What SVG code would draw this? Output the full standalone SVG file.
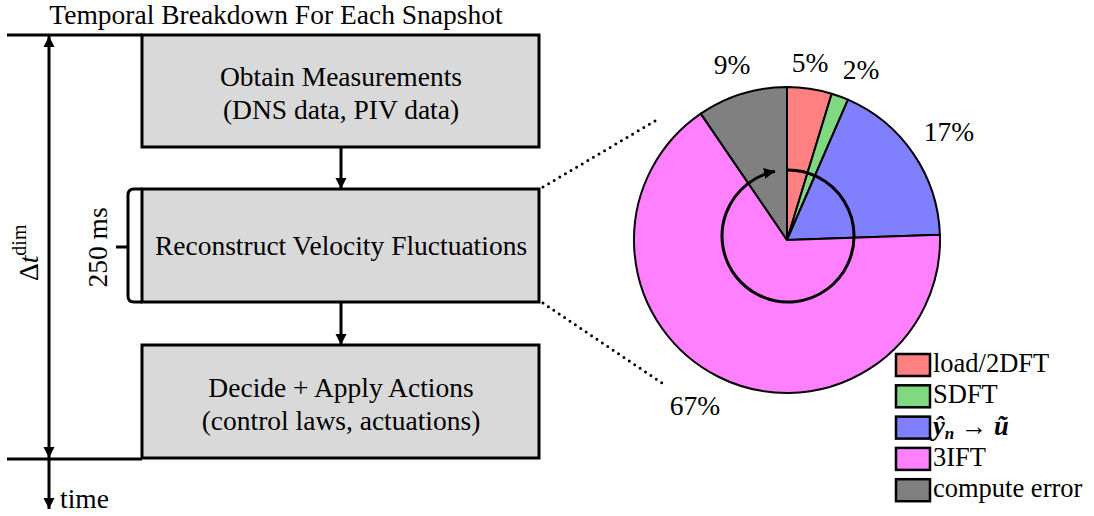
<svg xmlns="http://www.w3.org/2000/svg" width="1094" height="516" viewBox="0 0 1094 516">
<defs>
<style>
text{font-family:"Liberation Serif","Times New Roman",serif;fill:#000;}
.t{font-size:27.5px;}
.lg{font-size:26.5px;}
.box{fill:#d9d9d9;stroke:#000;stroke-width:3;}
.ln{stroke:#000;stroke-width:3;fill:none;}
.dot{stroke:#000;stroke-width:3;stroke-linecap:round;stroke-dasharray:0 6.5;fill:none;}
.sl{stroke:#000;stroke-width:2;stroke-linejoin:round;}
.key{stroke:#000;stroke-width:2.5;}
</style>
<marker id="ah" markerUnits="userSpaceOnUse" markerWidth="12" markerHeight="12" viewBox="0 0 12 12" refX="11" refY="6" orient="auto-start-reverse">
<path d="M0,0.5 L11,6 L0,11.5 z" fill="#000"/>
</marker>
</defs>
<rect width="1094" height="516" fill="#fff"/>
<text class="t" x="276" y="24" text-anchor="middle">Temporal Breakdown For Each Snapshot</text>
<g id="box-obtain">
<rect class="box" x="142" y="35" width="397" height="112"/>
<text class="t" x="341" y="86" text-anchor="middle">Obtain Measurements</text>
<text class="t" x="341" y="119" text-anchor="middle">(DNS data, PIV data)</text>
</g>
<g id="box-reconstruct">
<rect class="box" x="142" y="189" width="397" height="113"/>
<text class="t" x="341" y="255" text-anchor="middle">Reconstruct Velocity Fluctuations</text>
</g>
<g id="box-decide">
<rect class="box" x="142" y="345" width="397" height="113"/>
<text class="t" x="341" y="397" text-anchor="middle">Decide + Apply Actions</text>
<text class="t" x="341" y="430" text-anchor="middle">(control laws, actuations)</text>
</g>
<g id="timeline">
<line class="ln" x1="7" y1="35" x2="142" y2="35"/>
<line class="ln" x1="7" y1="459" x2="142" y2="459"/>
<text class="t" transform="translate(38,281) rotate(-90)">Δ<tspan font-style="italic">t</tspan><tspan font-size="20" dy="-12">dim</tspan></text>
<text class="t" x="60" y="508">time</text>
</g>
<g id="brace">
<path class="ln" d="M142,189 H134 Q128,189 128,195 V296 Q128,302 134,302 H142 M128,247 H116"/>
<text class="t" transform="translate(107,247.5) rotate(-90)" text-anchor="middle">250 ms</text>
</g>
<g id="connectors">
<line class="ln" x1="341" y1="147" x2="341" y2="189" marker-end="url(#ah)"/>
<line class="ln" x1="341" y1="302" x2="341" y2="345" marker-end="url(#ah)"/>
<line class="ln" x1="49" y1="36" x2="49" y2="458" marker-start="url(#ah)" marker-end="url(#ah)"/>
<line class="ln" x1="49" y1="459" x2="49" y2="509" marker-end="url(#ah)"/>
<line class="dot" x1="543" y1="187" x2="660" y2="118"/>
<line class="dot" x1="543" y1="303" x2="662" y2="383"/>
</g>
<g id="pie">
<path class="sl" fill="#ff8080" d="M787,240 L787,87 A153,153 0 0 1 831.7,93.7 Z"/>
<path class="sl" fill="#80d880" d="M787,240 L831.7,93.7 A153,153 0 0 1 848,99.7 Z"/>
<path class="sl" fill="#8080ff" d="M787,240 L848,99.7 A153,153 0 0 1 939.9,234.7 Z"/>
<path class="sl" fill="#ff80ff" d="M787,240 L939.9,234.7 A153,153 0 1 1 700.8,113.6 Z"/>
<path class="sl" fill="#808080" d="M787,240 L700.8,113.6 A153,153 0 0 1 787,87 Z"/>
<path class="ln" d="M788,170 A66,66 0 1 1 775,171.3" marker-end="url(#ah)"/>
<text class="t" x="732" y="74" text-anchor="middle">9%</text>
<text class="t" x="810" y="72" text-anchor="middle">5%</text>
<text class="t" x="861" y="79" text-anchor="middle">2%</text>
<text class="t" x="949" y="141" text-anchor="middle">17%</text>
<text class="t" x="695" y="415" text-anchor="middle">67%</text>
</g>
<g id="legend">
<rect class="key" x="896" y="354" width="34" height="22" fill="#ff8080"/>
<text class="lg" x="933" y="372">load/2DFT</text>
<rect class="key" x="896" y="385.3" width="34" height="22" fill="#80d880"/>
<text class="lg" x="933" y="403.3">SDFT</text>
<rect class="key" x="896" y="416.6" width="34" height="22" fill="#8080ff"/>
<text class="lg" x="933" y="434.6" font-weight="bold" font-style="italic">ŷ<tspan font-size="17" dy="4">n</tspan><tspan dy="-4" font-weight="normal" font-style="normal"> → </tspan>ũ</text>
<rect class="key" x="896" y="447.9" width="34" height="22" fill="#ff80ff"/>
<text class="lg" x="933" y="465.9">3IFT</text>
<rect class="key" x="896" y="479.2" width="34" height="22" fill="#808080"/>
<text class="lg" x="933" y="497.2">compute error</text>
</g>
</svg>
